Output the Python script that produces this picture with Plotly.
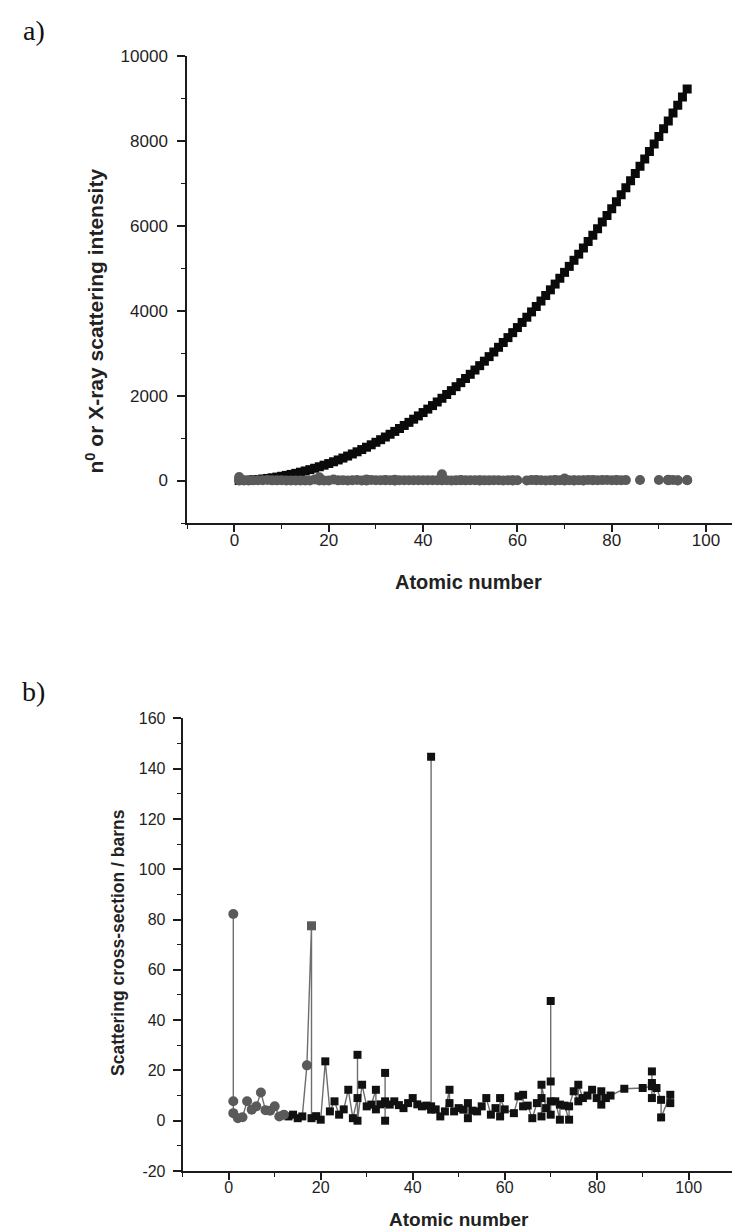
import plotly.graph_objects as go

# ---------------- data: panel a) ----------------
a_z = list(range(1, 97))
a_intensity = [1, 4, 9, 16, 25, 36, 49, 64, 81, 100, 121, 144, 169, 196, 225, 256, 289, 324,
               361, 400, 441, 484, 529, 576, 625, 676, 729, 784, 841, 900, 961, 1024, 1089,
               1156, 1225, 1296, 1369, 1444, 1521, 1600, 1681, 1764, 1849, 1936, 2025, 2116,
               2209, 2304, 2401, 2500, 2601, 2704, 2809, 2916, 3025, 3136, 3249, 3364, 3481,
               3600, 3721, 3844, 3969, 4096, 4225, 4356, 4489, 4624, 4761, 4900, 5041, 5184,
               5329, 5476, 5625, 5776, 5929, 6084, 6241, 6400, 6561, 6724, 6889, 7056, 7225,
               7396, 7569, 7744, 7921, 8100, 8281, 8464, 8649, 8836, 9025, 9216]
a_yticks = [0, 2000, 4000, 6000, 8000, 10000]
a_yticklabels = ["0", "2000", "4000", "6000", "8000", "10000"]

# ---------------- data: panel b) (scattering cross-section, barns) ----------------
grey_circle_z = [1, 1, 1, 2, 3, 4, 5, 6, 7, 8, 9, 10, 11, 12, 17]
grey_circle_v = [7.7, 82.2, 3.0, 1.0, 1.4, 7.7, 4.4, 5.7, 11.2, 4.2, 4.0, 5.7, 1.7, 2.4, 22.0]
grey_square_z = [18]
grey_square_v = [77.5]
black_square_z = [13, 14, 15, 16, 18, 19, 20, 21, 22, 23, 24, 25, 26, 27,
                  28, 28, 28, 29, 30, 31, 32, 32, 33, 34, 34, 34, 34, 35, 36, 37, 38, 39, 40,
                  41, 42, 43, 44, 44, 44, 45, 46, 47, 48, 48, 49, 50, 51, 52, 52, 53, 54, 55,
                  56, 57, 58, 59, 59, 60, 62, 63, 64, 64, 65, 66, 67, 68, 68, 68, 69,
                  70, 70, 70, 70, 71, 72, 72, 73, 74, 74, 75, 76, 76, 77, 78, 79, 80, 81, 81,
                  82, 83, 86, 90, 92, 92, 92, 92, 93, 94, 94, 96, 96]
black_square_v = [1.7, 2.4, 1.0, 1.7, 1.0, 1.8, 0.4, 23.6, 3.7, 7.7, 2.4, 4.5, 12.3, 1.0,
                  9.0, 26.2, 0.0, 14.3, 5.7, 6.4, 12.3, 4.5, 6.5, 7.7, 19.0, 0.0, 7.0, 6.4,
                  7.7, 6.2, 5.0, 7.0, 9.0, 6.5, 5.7, 6.0, 5.7, 144.7, 4.4, 4.5, 1.7, 3.7,
                  12.3, 7.0, 3.7, 5.0, 4.4, 1.0, 7.0, 4.0, 3.7, 5.7, 9.0, 2.4, 5.0, 1.7, 9.0,
                  4.5, 3.0, 9.7, 10.3, 5.7, 6.0, 1.0, 7.0, 9.0, 1.7, 14.3, 5.0,
                  2.4, 47.6, 15.6, 7.7, 7.7, 0.4, 6.4, 6.0, 0.4, 5.7, 11.7, 7.7, 14.3, 9.0,
                  10.0, 12.3, 9.0, 6.4, 11.7, 9.0, 10.0, 12.7, 13.0, 13.7, 19.6, 15.0, 9.0,
                  13.0, 8.3, 1.3, 10.3, 7.0]
b_yticks = [-20, 0, 20, 40, 60, 80, 100, 120, 140, 160]
b_yticklabels = ["-20", "0", "20", "40", "60", "80", "100", "120", "140", "160"]

x_ticks = [0, 20, 40, 60, 80, 100]

# connecting line through all cross-section points, ordered by atomic number
all_pts = (list(zip(grey_circle_z, grey_circle_v)) + list(zip(grey_square_z, grey_square_v))
           + list(zip(black_square_z, black_square_v)))
line_pts = sorted(all_pts, key=lambda p: p[0])
line_z = [p[0] for p in line_pts]
line_v = [p[1] for p in line_pts]

W, H = 740, 1228
def px(x):
    return x / W
def py(y):
    return (H - y) / H

FONT = "Liberation Sans, Arial, sans-serif"
AX = "#1c1c1c"
GREY = "#5a5a5a"

fig = go.Figure()

# panel a)
fig.add_trace(go.Scatter(x=a_z, y=a_intensity, mode="markers", xaxis="x", yaxis="y",
                         marker=dict(symbol="square", size=9, color="#0a0a0a"),
                         showlegend=False, hoverinfo="x+y"))
fig.add_trace(go.Scatter(x=line_z, y=line_v, mode="markers", xaxis="x", yaxis="y",
                         marker=dict(symbol="circle", size=10, color=GREY),
                         showlegend=False, hoverinfo="x+y"))

# panel b)
fig.add_trace(go.Scatter(x=line_z, y=line_v, mode="lines", xaxis="x2", yaxis="y2",
                         line=dict(color="#6e6e6e", width=1.4),
                         showlegend=False, hoverinfo="skip"))
fig.add_trace(go.Scatter(x=black_square_z, y=black_square_v, mode="markers", xaxis="x2", yaxis="y2",
                         marker=dict(symbol="square", size=8, color="#111111"),
                         showlegend=False))
fig.add_trace(go.Scatter(x=grey_circle_z, y=grey_circle_v, mode="markers", xaxis="x2", yaxis="y2",
                         marker=dict(symbol="circle", size=10, color=GREY),
                         showlegend=False))
fig.add_trace(go.Scatter(x=grey_square_z, y=grey_square_v, mode="markers", xaxis="x2", yaxis="y2",
                         marker=dict(symbol="square", size=9, color=GREY),
                         showlegend=False))

def axis_common(fs):
    return dict(showline=True, linecolor=AX, linewidth=2, ticks="outside", tickcolor=AX,
                tickwidth=1.6, showgrid=False, zeroline=False, automargin=False,
                tickfont=dict(family=FONT, size=fs, color="#1e1e1e"))

# a) axes
xa = axis_common(17)
xa.update(domain=[px(179.3), 1.0], range=[-10, 108.9], anchor="y", tickvals=x_ticks,
          ticklen=7, ticklabelstandoff=-6,
          minor=dict(ticks="outside", ticklen=4, dtick=10, tick0=0, tickcolor=AX, tickwidth=1.4))
ya = axis_common(17)
ya.update(domain=[py(515), py(47.7)], range=[-1000, 10000], anchor="x",
          tickvals=a_yticks, ticktext=a_yticklabels, ticklen=8, ticklabelstandoff=6,
          minor=dict(ticks="outside", ticklen=4, dtick=1000, tick0=0, tickcolor=AX, tickwidth=1.4))

# b) axes
xb = axis_common(16)
xb.update(domain=[px(174.7), px(726.7)], range=[-10, 110], anchor="y2", tickvals=x_ticks,
          ticklen=7, ticklabelstandoff=-6,
          minor=dict(ticks="outside", ticklen=4, dtick=10, tick0=0, tickcolor=AX, tickwidth=1.4))
yb = axis_common(16)
yb.update(domain=[py(1163), py(710.3)], range=[-20, 160], anchor="x2",
          tickvals=b_yticks, ticktext=b_yticklabels, ticklen=8, ticklabelstandoff=4,
          minor=dict(ticks="outside", ticklen=4, dtick=10, tick0=0, tickcolor=AX, tickwidth=1.4))

annotations = [
    dict(text="a)", x=px(25.5), y=py(22.5), font=dict(family="Liberation Serif, Times New Roman, serif", size=28, color="#111")),
    dict(text="b)", x=px(25), y=py(683), font=dict(family="Liberation Serif, Times New Roman, serif", size=28, color="#111")),
    dict(text="<b>Atomic number</b>", x=px(460.5), y=py(574), font=dict(family=FONT, size=20, color="#222")),
    dict(text="<b>Atomic number</b>", x=px(450.7), y=py(1211), font=dict(family=FONT, size=19, color="#222")),
    dict(text="<b>n<sup>0</sup> or X-ray scattering intensity</b>", x=px(86.5), y=py(313), textangle=-90,
         font=dict(family=FONT, size=21, color="#222")),
    dict(text="<b>Scattering cross-section / barns</b>", x=px(110), y=py(935), textangle=-90,
         font=dict(family=FONT, size=17.5, color="#222")),
]
for a in annotations:
    a.update(xref="paper", yref="paper", showarrow=False, xanchor="center", yanchor="middle")

fig.update_layout(width=W, height=H, margin=dict(l=0, r=0, t=0, b=0),
                  paper_bgcolor="white", plot_bgcolor="white",
                  xaxis=xa, yaxis=ya, xaxis2=xb, yaxis2=yb,
                  annotations=annotations, showlegend=False)

fig.write_html("out.html")
